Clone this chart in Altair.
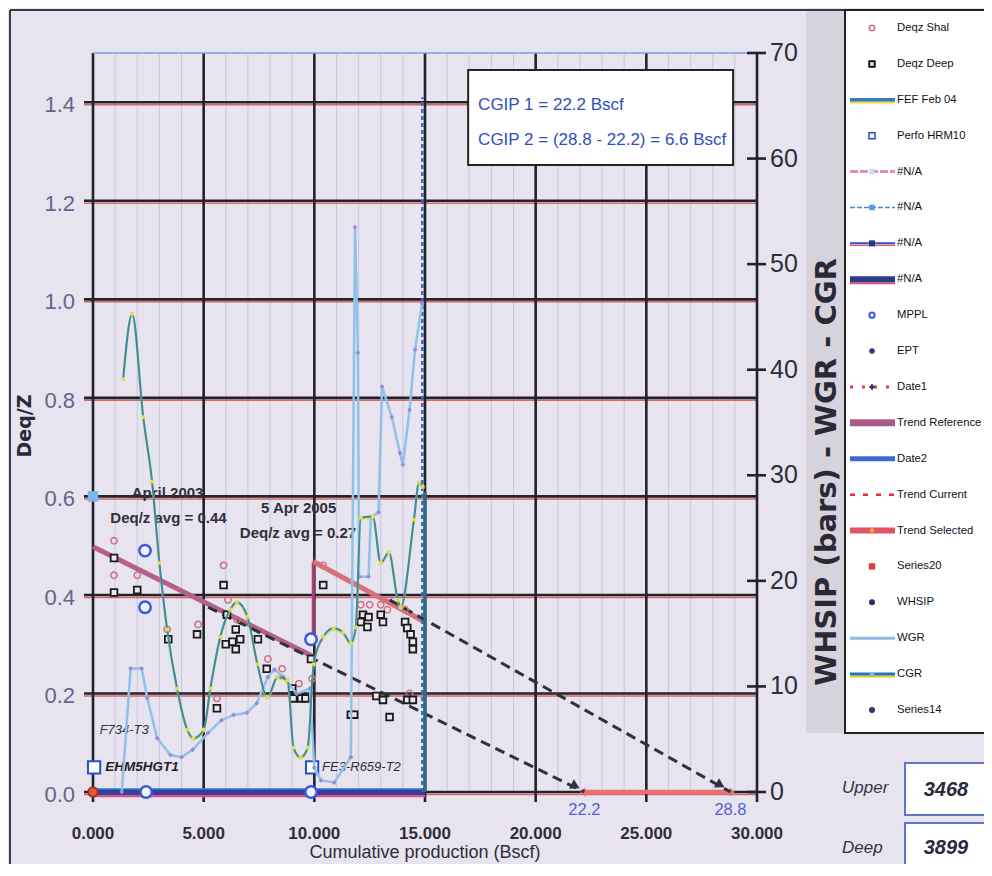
import altair as alt
import pandas as pd

# ---------------- axis ticks ----------------
x_major = [0, 5, 10, 15, 20, 25, 30]
x_minor = [1, 2, 3, 4, 6, 7, 8, 9, 11, 12, 13, 14, 16, 17, 18, 19, 21, 22, 23, 24, 26, 27, 28, 29]
yl_ticks = [0.0, 0.2, 0.4, 0.6, 0.8, 1.0, 1.2, 1.4]
yr_ticks = [0, 10, 20, 30, 40, 50, 60, 70]

# ---------------- Deq/Z points (left axis) ----------------
shal_x = [0.95, 0.95, 2.0, 3.35, 4.75, 5.9, 6.1, 6.5, 7.9, 8.55, 5.6, 9.3, 9.9, 10.4, 12.1, 12.5, 13.0, 13.3, 14.1, 14.3]
shal_y = [0.51, 0.44, 0.44, 0.33, 0.34, 0.46, 0.39, 0.35, 0.27, 0.25, 0.19, 0.22, 0.23, 0.46, 0.38, 0.38, 0.38, 0.37, 0.37, 0.20]

deep_x = [0.95, 0.95, 2.0, 3.4, 4.7, 5.9, 6.05, 6.0, 6.3, 6.45, 6.45, 6.65, 7.45, 7.85, 5.6, 9.0, 9.05, 9.4, 9.6, 9.85,
          10.4, 12.1, 12.2, 12.4, 12.45, 13.0, 13.1, 14.1, 14.2, 14.35, 14.45, 14.45, 12.8, 13.1, 14.2, 14.45, 11.65, 11.8, 13.4]
deep_y = [0.475, 0.405, 0.41, 0.31, 0.32, 0.42, 0.36, 0.30, 0.305, 0.29, 0.33, 0.31, 0.31, 0.25, 0.17, 0.21, 0.19, 0.19, 0.19, 0.27,
          0.42, 0.345, 0.36, 0.335, 0.355, 0.36, 0.345, 0.345, 0.333, 0.32, 0.305, 0.29, 0.195, 0.187, 0.187, 0.187, 0.157, 0.157, 0.152]

mppl_x = [2.35, 2.35, 9.85, 2.4, 9.85]
mppl_y = [0.49, 0.375, 0.31, 0.0, 0.0]

perfo_x = [0.05, 9.9]
perfo_y = [0.05, 0.05]

well_labels = ["EHM5HGT1", "FE3-R659-T2", "F734-T3"]
well_x = [0.55, 10.35, 0.3]
well_y = [0.05, 0.05, 0.126]

na_x = [0.0]
na_y = [0.6]

# ---------------- trend lines (left axis) ----------------
base_x = [0.0, 15.0]
base_y = [0.0, 0.0]
trend_ref_x = [0.0, 9.95]
trend_ref_y = [0.498, 0.275]
step_x = [9.95, 9.95]
step_y = [0.30, 0.468]
trend_sel_x = [9.95, 15.0]
trend_sel_y = [0.468, 0.345]
cur1_x = [5.2, 22.2]
cur1_y = [0.375, 0.0]
cur2_x = [13.4, 28.8]
cur2_y = [0.39, 0.0]
arrow_x = [21.8, 28.35]
arrow_y = [0.012, 0.014]
cgip_x = [22.2, 28.8]
cgip_y = [0.0, 0.0]
date_x = [14.88]
date_top = [1.41]
end_x = [15.0]
end_top = [0.61]

# ---------------- right axis series ----------------
cgr_x = [1.36, 1.77, 2.27, 2.67, 3.0, 3.35, 3.8, 4.26, 4.53, 5.0, 5.3, 5.75, 6.2, 6.5, 6.98, 7.43, 7.88, 8.34, 8.79,
         9.06, 9.38, 9.7, 9.97, 10.4, 10.87, 11.3, 11.65, 11.87, 12.1, 12.64, 13.0, 13.37, 13.77, 13.9, 14.5, 14.73, 14.9]
cgr_y = [39.1, 45.3, 35.5, 29.4, 21.7, 15.4, 9.8, 5.9, 5.1, 5.9, 9.8, 14.7, 17.3, 18.0, 16.6, 12.1, 9.0, 10.9, 10.6,
         4.2, 3.3, 4.2, 12.1, 14.7, 15.5, 15.1, 14.1, 15.6, 26.0, 26.1, 21.7, 22.7, 18.2, 17.5, 25.8, 29.3, 28.9]

wgr_x = [1.3, 1.7, 2.2, 2.45, 2.9, 3.5, 4.0, 4.5, 5.2, 5.8, 6.35, 6.95, 7.4, 7.9, 8.2, 8.6, 9.2, 9.8, 10.0, 10.3, 10.9,
         11.65, 11.84, 11.97, 12.02, 12.45, 12.55, 12.9, 13.06, 13.5, 13.87, 14.0, 14.3, 14.55, 14.87]
wgr_y = [0.0, 11.7, 11.7, 8.9, 5.1, 3.5, 3.3, 4.0, 5.6, 6.8, 7.3, 7.5, 8.4, 10.9, 11.6, 10.9, 9.3, 9.8, 2.3, 1.1, 0.9,
         3.3, 53.5, 41.6, 20.4, 20.4, 26.0, 26.5, 38.4, 35.5, 32.1, 31.0, 36.2, 41.9, 46.3]

# ---------------- text ----------------
x_title = "Cumulative production (Bscf)"
yl_title = "Deq/Z"
yr_title = "WHSIP (bars) - WGR - CGR"

cgip_lines = ["CGIP 1 = 22.2 Bscf", "CGIP 2 = (28.8 - 22.2) = 6.6 Bscf"]
cgip_line_x = [17.4, 17.4]
cgip_line_y = [1.394, 1.323]
cgip_box = {"x0": [16.95], "x1": [28.92], "y0": [1.2727], "y1": [1.4655]}

note_text = ["April 2003", "Deq/z avg = 0.44", "5 Apr 2005", "Deq/z avg = 0.27"]
note_x = [3.37, 3.41, 9.29, 9.26]
note_y = [0.607, 0.556, 0.576, 0.526]

legend_labels = ["Deqz Shal", "Deqz Deep", "FEF Feb 04", "Perfo HRM10", "#N/A", "#N/A", "#N/A", "#N/A",
                 "MPPL", "EPT", "Date1", "Trend Reference", "Date2", "Trend Current", "Trend Selected",
                 "Series20", "WHSIP", "WGR", "CGR", "Series14"]

depth_labels = ["Upper", "Deep"]
depth_values = ["3468", "3899"]

# ---------------- styling ----------------
W, H = 664, 739
SANS = "Liberation Sans, Arial, sans-serif"
WIDE = "DejaVu Sans, sans-serif"
DARK = "#23232b"

XS = alt.Scale(domain=[0, 30], nice=False, zero=False)
YLS = alt.Scale(domain=[0, 1.5], nice=False, zero=False)
YRS = alt.Scale(domain=[0, 70], nice=False, zero=False)


def ex(f="x"):
    return alt.X(f, type="quantitative", scale=XS, axis=None)


def eyl(f="y"):
    return alt.Y(f, type="quantitative", scale=YLS, axis=None)


def eyr(f="y"):
    return alt.Y(f, type="quantitative", scale=YRS, axis=None)


one = pd.DataFrame({"k": [0]})


def prect(x0, x1, y0, y1, **kw):
    return alt.Chart(one).mark_rect(**kw).encode(x=alt.value(x0), x2=alt.value(x1), y=alt.value(y0), y2=alt.value(y1))


def prule(x0, x1, y0, y1, **kw):
    return alt.Chart(one).mark_rule(**kw).encode(x=alt.value(x0), x2=alt.value(x1), y=alt.value(y0), y2=alt.value(y1))


def ptext(x, y, text, **kw):
    return alt.Chart(one).mark_text(text=text, **kw).encode(x=alt.value(x), y=alt.value(y))


def xy(xs, ys):
    return pd.DataFrame({"x": xs, "y": ys})


# ---------------- left group ----------------
L = []
# frame and grey band behind the right-axis title
L.append(prect(713, 752, -43, 680, fill="#d6d3dc"))
L.append(prule(-83, -83, -43, 830, color="#3a3a44", strokeWidth=2))
L.append(prule(-83, 910, -43, -43, color="#3a3a44", strokeWidth=2))
# grid
L.append(alt.Chart(pd.DataFrame({"v": x_minor})).mark_rule(color="#c7c8e0", strokeWidth=1).encode(
    x=ex("v"), y=alt.value(0), y2=alt.value(H)))
yt = pd.DataFrame({"v": yl_ticks})
L.append(alt.Chart(yt).mark_rule(color="#d86464", strokeWidth=1.5, yOffset=2.5).encode(
    y=eyl("v"), x=alt.value(-9), x2=alt.value(W)))
L.append(alt.Chart(yt).mark_rule(color=DARK, strokeWidth=2.6).encode(
    y=eyl("v"), x=alt.value(-9), x2=alt.value(W)))
xt = pd.DataFrame({"v": x_major})
L.append(alt.Chart(xt).mark_rule(color=DARK, strokeWidth=2.6).encode(
    x=ex("v"), y=alt.value(0), y2=alt.value(H + 10)))
L.append(prule(0, W, 0, 0, color="#7aa6dc", strokeWidth=1.5))

# axis labels and titles (drawn as text through the scales)
L.append(alt.Chart(yt).mark_text(align="right", baseline="middle", dy=3, font=SANS, fontSize=22,
                                  color="#62668c").encode(
    y=eyl("v"), x=alt.value(-18), text=alt.Text("v:Q", format=".1f")))
L.append(alt.Chart(xt).mark_text(align="center", baseline="middle", font=SANS, fontSize=17, fontWeight="bold",
                                  color="#2e2e38").encode(
    x=ex("v"), y=alt.value(H + 42), text=alt.Text("v:Q", format=".3f")))
L.append(ptext(W / 2, H + 61, x_title, align="center", baseline="middle", font=SANS, fontSize=18, color="#2e2e38"))
L.append(ptext(-68, 373, yl_title, align="center", baseline="middle", angle=270, font=WIDE, fontSize=19,
               fontWeight="bold", color="#2a2a35"))
L.append(ptext(734, 419, yr_title, align="center", baseline="middle", angle=270, font=WIDE, fontSize=29,
               fontWeight="bold", color="#2a2a35"))

# CGIP box
L.append(alt.Chart(pd.DataFrame(cgip_box)).mark_rect(fill="white", stroke="#222", strokeWidth=2).encode(
    x=ex("x0"), x2="x1", y=eyl("y0"), y2="y1"))
L.append(alt.Chart(pd.DataFrame({"x": cgip_line_x, "y": cgip_line_y, "t": cgip_lines})).mark_text(
    align="left", baseline="middle", font=SANS, fontSize=17, color="#2f4fb8").encode(x=ex(), y=eyl(), text="t"))

# trend lines
L.append(alt.Chart(xy(trend_ref_x, trend_ref_y)).mark_line(color="#b4608a", strokeWidth=5).encode(x=ex(), y=eyl()))
L.append(alt.Chart(xy(step_x, step_y)).mark_line(color="#b03c7c", strokeWidth=3).encode(x=ex(), y=eyl()))
L.append(alt.Chart(xy(trend_sel_x, trend_sel_y)).mark_line(color="#d8707a", strokeWidth=5).encode(x=ex(), y=eyl()))
L.append(alt.Chart(xy(base_x, base_y)).mark_line(color="#e0508a", strokeWidth=2.5, yOffset=4).encode(x=ex(), y=eyl()))
L.append(alt.Chart(xy(base_x, base_y)).mark_line(color="#34409c", strokeWidth=6).encode(x=ex(), y=eyl()))
L.append(alt.Chart(xy(base_x, base_y)).mark_line(color="#2f78d8", strokeWidth=1.5, yOffset=-3).encode(x=ex(), y=eyl()))
L.append(alt.Chart(xy(cgip_x, cgip_y)).mark_line(color="#e87070", strokeWidth=4.5).encode(x=ex(), y=eyl()))
L.append(alt.Chart(xy(cgip_x, cgip_y)).mark_point(shape="diamond", size=70, filled=True, fill="#e87070",
                                                   opacity=1).encode(x=ex(), y=eyl()))
L.append(alt.Chart(xy(cur1_x, cur1_y)).mark_line(color="#2b3240", strokeWidth=3, strokeDash=[10, 6]).encode(x=ex(), y=eyl()))
L.append(alt.Chart(xy(cur2_x, cur2_y)).mark_line(color="#2b3240", strokeWidth=3, strokeDash=[10, 6]).encode(x=ex(), y=eyl()))
L.append(alt.Chart(xy(arrow_x[:1], arrow_y[:1])).mark_point(shape="triangle-right", size=110, angle=27, filled=True,
                                                             fill="#2b3240", opacity=1).encode(x=ex(), y=eyl()))
L.append(alt.Chart(xy(arrow_x[1:], arrow_y[1:])).mark_point(shape="triangle-right", size=110, angle=29, filled=True,
                                                             fill="#2b3240", opacity=1).encode(x=ex(), y=eyl()))
L.append(alt.Chart(pd.DataFrame({"x": date_x, "y0": [0.0], "y1": date_top})).mark_rule(
    color="#3a64c8", strokeWidth=2.5, strokeDash=[4, 3]).encode(x=ex(), y=eyl("y0"), y2="y1"))
L.append(alt.Chart(pd.DataFrame({"x": end_x, "y0": [0.0], "y1": end_top})).mark_rule(
    color="#2b6d7a", strokeWidth=3.5).encode(x=ex(), y=eyl("y0"), y2="y1"))

# points
L.append(alt.Chart(xy(shal_x, shal_y)).mark_point(shape="circle", size=40, filled=False, stroke="#d0707e",
                                                 strokeWidth=1.5, opacity=1).encode(x=ex(), y=eyl()))
L.append(alt.Chart(xy(deep_x, deep_y)).mark_point(shape="square", size=45, filled=True, fill="#ece7ef", stroke="#1a1a1a",
                                                 strokeWidth=1.8, opacity=1).encode(x=ex(), y=eyl()))
L.append(alt.Chart(xy(mppl_x, mppl_y)).mark_point(shape="circle", size=130, filled=True, fill="#f3f3ff", stroke="#3a5ad8",
                                                 strokeWidth=2.5, opacity=1).encode(x=ex(), y=eyl()))
L.append(alt.Chart(xy(perfo_x, perfo_y)).mark_point(shape="square", size=150, filled=True, fill="#ffffff", stroke="#2a50c8",
                                                   strokeWidth=2, opacity=1).encode(x=ex(), y=eyl()))
L.append(alt.Chart(xy(na_x, na_y)).mark_point(shape="square", size=110, filled=True, fill="#7fb4e6",
                                             opacity=1).encode(x=ex(), y=eyl()))
L.append(alt.Chart(xy([0.0], [0.0])).mark_point(shape="circle", size=90, filled=True, fill="#e05a40", stroke="#a03020",
                                               opacity=1).encode(x=ex(), y=eyl()))

# notes
L.append(alt.Chart(pd.DataFrame({"x": note_x, "y": note_y, "t": note_text})).mark_text(
    align="center", baseline="middle", font=SANS, fontSize=15, fontWeight="bold", color="#30303a").encode(
    x=ex(), y=eyl(), text="t"))
L.append(alt.Chart(pd.DataFrame({"x": cgip_x, "y": cgip_y, "t": ["22.2", "28.8"]})).mark_text(
    align="center", baseline="middle", dy=18, font=SANS, fontSize=16.5, color="#5560d0").encode(
    x=ex(), y=eyl(), text="t"))
L.append(alt.Chart(pd.DataFrame({"x": well_x[1:], "y": well_y[1:], "t": well_labels[1:]})).mark_text(
    align="left", baseline="middle", font=SANS, fontSize=13, fontStyle="italic", color="#30303a").encode(
    x=ex(), y=eyl(), text="t"))
L.append(alt.Chart(pd.DataFrame({"x": well_x[:1], "y": well_y[:1], "t": well_labels[:1]})).mark_text(
    align="left", baseline="middle", font=SANS, fontSize=13.5, fontStyle="italic", fontWeight="bold",
    color="#1e1e26").encode(x=ex(), y=eyl(), text="t"))

# ---------------- right group ----------------
R = []
rt = pd.DataFrame({"v": yr_ticks})
R.append(alt.Chart(rt).mark_rule(color=DARK, strokeWidth=2.6).encode(
    y=eyr("v"), x=alt.value(W - 10), x2=alt.value(W + 9)))
R.append(alt.Chart(rt).mark_text(align="left", baseline="middle", font=SANS, fontSize=25, color="#2e2e38").encode(
    y=eyr("v"), x=alt.value(W + 13), text=alt.Text("v:Q", format="d")))
R.append(alt.Chart(xy(wgr_x, wgr_y)).mark_line(color="#8ec2ea", strokeWidth=2.5).encode(x=ex(), y=eyr()))
R.append(alt.Chart(xy(wgr_x, wgr_y)).mark_point(shape="diamond", size=24, filled=True, fill="#9d8ad8",
                                               opacity=1).encode(x=ex(), y=eyr()))
R.append(alt.Chart(xy(cgr_x, cgr_y)).mark_line(color="#cfdc4a", strokeWidth=2, yOffset=1.5,
                                              interpolate="monotone").encode(x=ex(), y=eyr()))
R.append(alt.Chart(xy(cgr_x, cgr_y)).mark_line(color="#3a8aa6", strokeWidth=2,
                                              interpolate="monotone").encode(x=ex(), y=eyr()))
R.append(alt.Chart(xy(cgr_x, cgr_y)).mark_point(shape="square", size=14, filled=True, fill="#d8e050",
                                               opacity=1).encode(x=ex(), y=eyr()))

# ---------------- legend group ----------------
LEGEND_SYMBOLS = [
    [("pt", dict(shape="circle", size=28, filled=False, stroke="#d0707e", strokeWidth=1.5))],
    [("pt", dict(shape="square", size=30, filled=True, fill="#f4f0f4", stroke="#111111", strokeWidth=2))],
    [("ln", dict(color="#e6dc3c", strokeWidth=2.5, yOffset=2.5)), ("ln", dict(color="#3a78c8", strokeWidth=3.5))],
    [("pt", dict(shape="square", size=36, filled=True, fill="#ffffff", stroke="#3048b0", strokeWidth=1.5))],
    [("ln", dict(color="#e48cb8", strokeWidth=3, strokeDash=[8, 2])),
     ("pt", dict(shape="square", size=30, filled=True, fill="#c6dcf2"))],
    [("ln", dict(color="#4a88d8", strokeWidth=1.5, strokeDash=[5, 2])),
     ("pt", dict(shape="square", size=30, filled=True, fill="#5a98e0"))],
    [("ln", dict(color="#e05070", strokeWidth=1.2, yOffset=2)), ("ln", dict(color="#3050c8", strokeWidth=2)),
     ("pt", dict(shape="square", size=36, filled=True, fill="#26357e"))],
    [("ln", dict(color="#e05070", strokeWidth=2, yOffset=4)), ("ln", dict(color="#2e3a8c", strokeWidth=6))],
    [("pt", dict(shape="circle", size=28, filled=False, stroke="#3a5ad8", strokeWidth=2))],
    [("pt", dict(shape="circle", size=30, filled=True, fill="#2a3a80"))],
    [("ln", dict(color="#e04050", strokeWidth=3, strokeDash=[3, 9])),
     ("pt", dict(shape="cross", size=30, filled=True, fill="#333366"))],
    [("ln", dict(color="#a85a88", strokeWidth=7))],
    [("ln", dict(color="#3a6ad0", strokeWidth=5))],
    [("ln", dict(color="#e03040", strokeWidth=2.5, strokeDash=[5, 8]))],
    [("ln", dict(color="#e25464", strokeWidth=6)),
     ("pt", dict(shape="diamond", size=35, filled=True, fill="#f0a040"))],
    [("pt", dict(shape="square", size=40, filled=True, fill="#e03a3a"))],
    [("pt", dict(shape="circle", size=36, filled=True, fill="#26306e"))],
    [("ln", dict(color="#8cbce8", strokeWidth=3))],
    [("ln", dict(color="#dcd83c", strokeWidth=2.5, yOffset=2.5)), ("ln", dict(color="#2a70c0", strokeWidth=3)),
     ("pt", dict(shape="square", size=20, filled=True, fill="#7cc0d0"))],
    [("pt", dict(shape="circle", size=36, filled=True, fill="#2a3470"))],
]

leg_df = pd.DataFrame({"row": list(range(len(legend_labels))), "label": legend_labels})
LY = alt.Y("row:O", scale=alt.Scale(type="point", domain=list(range(len(legend_labels))), range=[-25, 657], padding=0),
           axis=None)

G = []
G.append(prect(752, 910, -43, 680, fill="white", stroke="#222", strokeWidth=2))
for i, parts in enumerate(LEGEND_SYMBOLS):
    sub = alt.Chart(leg_df).transform_filter(alt.datum.row == i)
    for kind, st in parts:
        if kind == "ln":
            G.append(sub.mark_rule(**st).encode(x=alt.value(757), x2=alt.value(802), y=LY))
        else:
            G.append(sub.mark_point(opacity=1, **st).encode(x=alt.value(779), y=LY))
G.append(alt.Chart(leg_df).mark_text(align="left", baseline="middle", font=SANS, fontSize=11.3, fontWeight="normal",
                                     color="#111118").encode(x=alt.value(804), y=LY, text="label"))

# depth boxes (outside the plot, bottom right)
G.append(prect(812, 894, 710, 762, fill="white", stroke="#5b78cc", strokeWidth=2))
G.append(prect(812, 894, 770, 830, fill="white", stroke="#5b78cc", strokeWidth=2))
G.append(ptext(749, 735, depth_labels[0], align="left", baseline="middle", font=SANS, fontSize=17,
               fontStyle="italic", color="#34343f"))
G.append(ptext(749, 795, depth_labels[1], align="left", baseline="middle", font=SANS, fontSize=17,
               fontStyle="italic", color="#34343f"))
G.append(ptext(853, 737, depth_values[0], align="center", baseline="middle", font=SANS, fontSize=20,
               fontStyle="italic", fontWeight="bold", color="#2a2a3a"))
G.append(ptext(853, 795, depth_values[1], align="center", baseline="middle", font=SANS, fontSize=20,
               fontStyle="italic", fontWeight="bold", color="#2a2a3a"))

chart = alt.layer(alt.layer(*L), alt.layer(*R), alt.layer(*G)).resolve_scale(y="independent").properties(
    width=W, height=H, background="#e7e3ef",
    padding={"left": 85, "top": 45, "right": 227, "bottom": 72},
    autosize=alt.AutoSizeParams(type="none"),
).configure_view(stroke=None)

chart.save("out.html", embed_options={"renderer": "svg", "actions": False})
